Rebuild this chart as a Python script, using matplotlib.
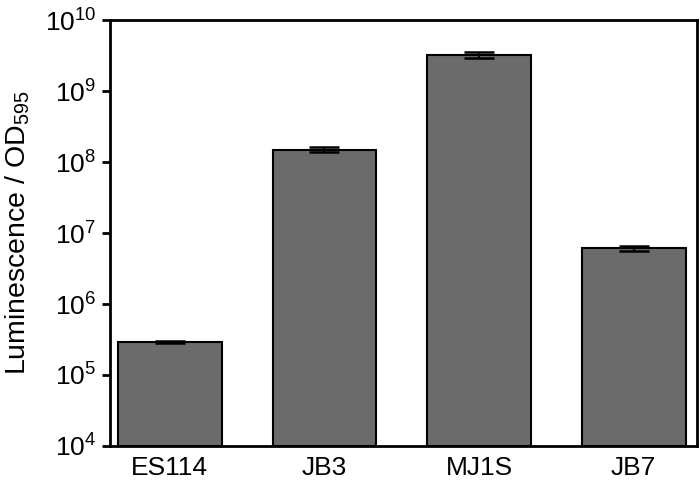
import matplotlib
matplotlib.use("Agg")
import matplotlib.pyplot as plt
import numpy as np

plt.rcParams['font.family'] = ['Liberation Sans', 'DejaVu Sans']
plt.rcParams['mathtext.fontset'] = 'custom'
plt.rcParams['mathtext.rm'] = 'Liberation Sans'
plt.rcParams['mathtext.it'] = 'Liberation Sans:italic'
plt.rcParams['mathtext.bf'] = 'Liberation Sans:bold'

strains = ['ES114', 'JB3', 'MJ1S', 'JB7']
luminescence = [2.83e5, 1.50e8, 3.21e9, 6.15e6]
errors = [0.12e5, 0.13e8, 0.3e9, 0.5e6]

fig = plt.figure(figsize=(7, 4.8), dpi=100)
ax = fig.add_axes([0.157, 0.071, 0.839, 0.887])

x = np.arange(len(strains))
ax.bar(x, luminescence, width=0.67, bottom=1e4, color='#6b6b6b', edgecolor='black', linewidth=1.5,
       yerr=errors, capsize=10.5, error_kw=dict(elinewidth=1.5, capthick=1.8, ecolor='black'))

ax.set_yscale('log')
ax.set_ylim(1e4, 1e10)
ax.set_xlim(-0.387, 3.41)
ax.set_yticks([10.0 ** k for k in range(4, 11)])
ax.minorticks_off()
ax.set_xticks(x)
ax.set_xticklabels(strains)

ax.tick_params(axis='y', direction='out', length=6, width=2, labelsize=19, pad=4)
ax.tick_params(axis='x', length=0, labelsize=19, pad=7)
for s in ax.spines.values():
    s.set_linewidth(2)

ax.set_ylabel('Luminescence / OD$_{595}$', fontsize=20.5, labelpad=9)

fig.savefig('out.png', dpi=100)
